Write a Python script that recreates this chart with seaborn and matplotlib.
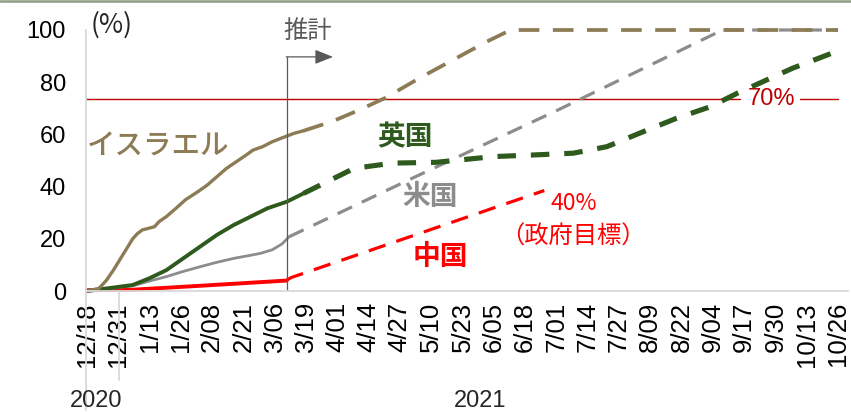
import numpy as np
import pandas as pd
import matplotlib
matplotlib.use("Agg")
import matplotlib.pyplot as plt
import matplotlib.transforms as mtransforms
from matplotlib.lines import Line2D
import seaborn as sns

# ---------------- data (x = days since 2020-12-18, y = %) ----------------
tick_days = list(range(0, 313, 13))
tick_labels = ["12/18", "12/31", "1/13", "1/26", "2/08", "2/21", "3/06", "3/19",
               "4/01", "4/14", "4/27", "5/10", "5/23", "6/05", "6/18", "7/01",
               "7/14", "7/27", "8/09", "8/22", "9/04", "9/17", "9/30", "10/13", "10/26"]
y_ticks = [0, 20, 40, 60, 80, 100]

israel_act_days = [0, 5, 8, 11, 14, 17, 19, 21, 23, 28, 30, 33, 37, 41, 46, 50, 54, 58, 62, 66, 69, 73, 77, 82, 86, 90]
israel_act_vals = [0, 1, 4, 8, 12.5, 17, 20, 22, 23.4, 24.6, 26.6, 28.5, 31.7, 35, 38, 40.6, 43.8, 47, 49.5, 52, 54, 55.3, 57.2, 59, 60.4, 61.4]
israel_est_days = [90, 102, 113, 124, 138, 152, 166, 176, 312]
israel_est_vals = [61.4, 65, 69.3, 74, 81.5, 88.5, 95.5, 100, 100]

uk_act_days = [0, 10, 19, 26, 33, 40, 47, 54, 61, 68, 75, 83, 90]
uk_act_vals = [0, 1.2, 2.3, 4.9, 8, 12.5, 17, 21.5, 25.3, 28.5, 31.7, 34.2, 37.4]
uk_est_days = [90, 97, 111, 127, 145, 169, 185, 202, 216, 231, 245, 259, 270, 293, 312]
uk_est_vals = [37.4, 40.6, 47, 49, 49.3, 51.5, 52.1, 52.8, 55.3, 61, 66.2, 70.6, 75.7, 85.3, 92]

us_act_days = [0, 10, 19, 26, 33, 40, 47, 54, 61, 68, 72, 77, 81, 84]
us_act_vals = [0, 1, 2, 3.8, 5.5, 7.5, 9.3, 11, 12.5, 13.7, 14.4, 15.8, 18, 20.8]
us_est_days = [84, 137, 196, 264, 312]
us_est_vals = [20.8, 44, 69.5, 100, 100]

china_act_days = [0, 19, 47, 83]
china_act_vals = [0.3, 0.5, 2, 4]
china_est_days = [83, 85, 190]
china_est_vals = [4.2, 5.2, 38.5]

target_value = 73.6          # drawn position of the "70%" reference line
estimate_start_day = 83      # 推計 marker
estimate_arrow_top = 89.7

# ---------------- style ----------------
sns.set_theme(style="white")
plt.rcParams["font.family"] = ["Liberation Sans", "Noto Sans CJK JP", "DejaVu Sans"]
JP = ["Noto Sans CJK JP", "DejaVu Sans"]

C_IS = "#8C7B55"
C_UK = "#2E5A1E"
C_US = "#8C8C8C"
C_CN = "#FF0000"
C_TG = "#C00000"
C_AX = "#D9D9D9"
C_TX = "#595959"

W, H = 851, 412
fig = plt.figure(figsize=(W / 100, H / 100), dpi=100)
x0, x1 = 85.5, 847.6
y_top, y_bot = 30, 291
ax = fig.add_axes([x0 / W, (H - y_bot) / H, (x1 - x0) / W, (y_bot - y_top) / H])
ax.set_xlim(-0.6, 316)
ax.set_ylim(0, 100)


def draw(days, vals, color, lw, dashes=None):
    sns.lineplot(x=days, y=vals, color=color, linewidth=lw, ax=ax, sort=False,
                 estimator=None, legend=False)
    ln = ax.lines[-1]
    ln.set_clip_on(False)
    ln.set_solid_capstyle("round")
    if dashes is not None:
        ln.set_dashes(dashes)
        ln.set_dash_capstyle("butt")
    return ln


# reference line (broken for the 70% label)
ax.plot([-0.6, 271.3], [target_value] * 2, color=C_TG, lw=1.0)
ax.plot([296.2, 312], [target_value] * 2, color=C_TG, lw=1.0)

draw(china_act_days, china_act_vals, C_CN, 2.8)
draw(china_est_days, china_est_vals, C_CN, 2.3, (5.5, 3.6))
draw(us_act_days, us_act_vals, C_US, 2.0)
draw(us_est_days, us_est_vals, C_US, 2.3, (5.0, 3.4))
draw(uk_act_days, uk_act_vals, C_UK, 2.8)
draw(uk_est_days, uk_est_vals, C_UK, 3.7, (3.6, 2.9))
draw(israel_act_days, israel_act_vals, C_IS, 2.4)
draw(israel_est_days, israel_est_vals, C_IS, 2.7, (5.5, 3.6))

# 推計 marker
ax.plot([estimate_start_day] * 2, [0, estimate_arrow_top], color=C_TX, lw=0.9)
ax.annotate("", xy=(102.2, estimate_arrow_top), xytext=(estimate_start_day - 0.2, estimate_arrow_top),
            arrowprops=dict(arrowstyle="-|>,head_length=0.55,head_width=0.22",
                            color=C_TX, lw=0.9, mutation_scale=20, shrinkA=0, shrinkB=0))
ax.text(91.8, 99.6, "推計", color=C_TX, fontsize=17.5, ha="center", va="center", family=JP)

# axes styling
for s in ["top", "right"]:
    ax.spines[s].set_visible(False)
for s in ["left", "bottom"]:
    ax.spines[s].set_color(C_AX)
    ax.spines[s].set_linewidth(1.3)
ax.set_xticks(tick_days)
ax.set_xticklabels(tick_labels, rotation=90, fontsize=18.5, color="#000000", va="top", ha="center")
ax.set_yticks(y_ticks)
ax.set_yticklabels([str(v) for v in y_ticks], fontsize=17, color="#000000")
ax.tick_params(axis="x", length=0, pad=8)
ax.tick_params(axis="y", length=0, pad=14)
ax.set_xlabel("")
ax.set_ylabel("")
ax.grid(False)

# category separators below the axis
tr = mtransforms.blended_transform_factory(ax.transData, ax.transAxes)
ax.plot([-0.6, -0.6], [0, -119 / 261], transform=tr, color=C_AX, lw=1.3, clip_on=False)
ax.plot([13.5, 13.5], [0, -89 / 261], transform=tr, color=C_AX, lw=1.3, clip_on=False)
trf = mtransforms.blended_transform_factory(ax.transData, fig.transFigure)
ax.text(3.7, (H - 401) / H, "2020", fontsize=17, ha="center", va="center", transform=trf)
ax.text(163.3, (H - 401) / H, "2021", fontsize=17, ha="center", va="center", transform=trf)

# labels
ax.text(10.4, 101.9, "(%)", fontsize=19, ha="center", va="center", family=JP)
ax.text(29.5, 55.9, "イスラエル", color=C_IS, fontsize=20.5, ha="center", va="center",
        family=JP, fontweight="medium")
ax.text(132.1, 59, "英国", color=C_UK, fontsize=20, ha="center", va="center", family=JP, fontweight="bold")
ax.text(142.5, 36, "米国", color=C_US, fontsize=20, ha="center", va="center", family=JP, fontweight="bold")
ax.text(147, 13, "中国", color=C_CN, fontsize=20, ha="center", va="center", family=JP, fontweight="bold")
ax.text(202.3, 33.7, "40%", color=C_CN, fontsize=16.5, ha="center", va="center", family=JP)
ax.text(201.9, 20.7, "（政府目標）", color=C_CN, fontsize=17.5, ha="center", va="center", family=JP)
ax.text(284.2, target_value, "70%", color=C_TG, fontsize=17, ha="center", va="center")

# top border of the figure
fig.add_artist(Line2D([0, 1], [1 - 1 / H, 1 - 1 / H], transform=fig.transFigure, color="#8E9C86", lw=1.8))

fig.savefig("out.png", dpi=100, facecolor="white")
